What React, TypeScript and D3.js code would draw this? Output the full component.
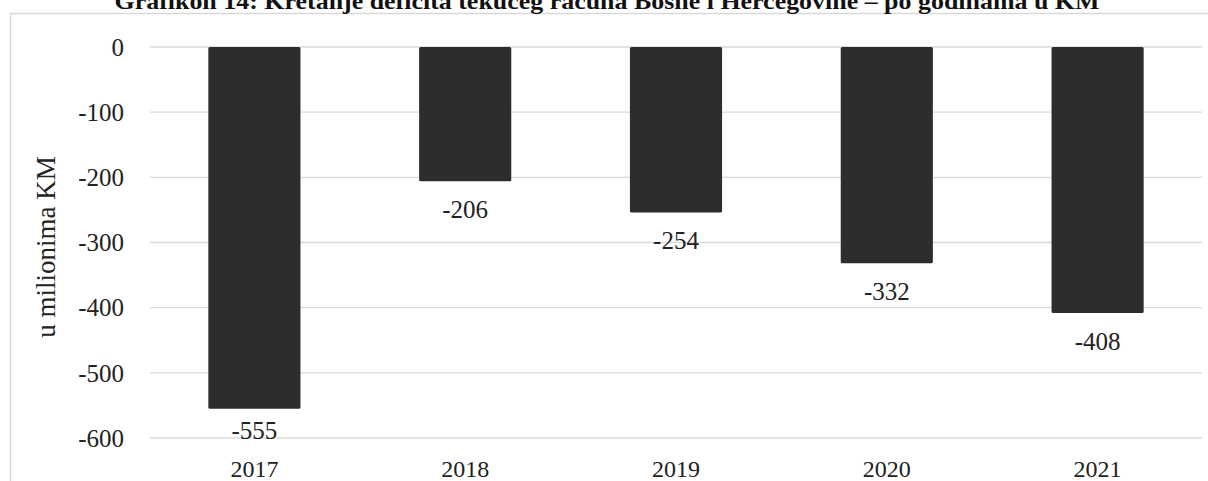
import React from "react";
import * as d3 from "d3";

const years = ["2017", "2018", "2019", "2020", "2021"];
const deficit = [-555, -206, -254, -332, -408];
const yTicks = [0, -100, -200, -300, -400, -500, -600];
const titleText = "Grafikon 14: Kretanje deficita tekućeg računa Bosne i Hercegovine – po godinama u KM";
const yAxisTitle = "u milionima KM";

const W = 1208;
const H = 481;
const FONT = "'Liberation Serif', 'Times New Roman', serif";

export default function App() {
  const x = d3.scaleBand<string>().domain(years).range([149, 1203]).paddingInner(0.563).paddingOuter(0.2815);
  const y = d3.scaleLinear().domain([-600, 0]).range([438, 47]);
  const bw = x.bandwidth();

  return (
    <svg width={W} height={H} style={{ position: "absolute", left: 0, top: 0, background: "#fff" }}>
      <rect x={0} y={0} width={W} height={H} fill="#fff" />
      {/* frame */}
      <line x1={10} y1={13.5} x2={W} y2={13.5} stroke="#d9d9d9" strokeWidth={1.5} />
      <line x1={10.5} y1={13} x2={10.5} y2={H} stroke="#d9d9d9" strokeWidth={1.5} />
      {/* title (clipped at top, as in the source) */}
      <text x={607} y={9} textAnchor="middle" fontFamily={FONT} fontWeight="bold" fontSize={24}
        textLength={985} lengthAdjust="spacingAndGlyphs" fill="#111">{titleText}</text>
      {/* gridlines */}
      {yTicks.map((t) => (
        <line key={t} x1={150} x2={1202} y1={y(t)} y2={y(t)} stroke="#d9d9d9" strokeWidth={1.3} />
      ))}
      {/* y tick labels */}
      {yTicks.map((t) => (
        <text key={"l" + t} x={124} y={y(t)} dy="0.35em" textAnchor="end" fontFamily={FONT} fontSize={25} fill="#222">
          {t}
        </text>
      ))}
      {/* y axis title */}
      <text transform={`translate(46,247) rotate(-90)`} textAnchor="middle" dy="0.35em" fontFamily={FONT} fontSize={27} fill="#222">
        {yAxisTitle}
      </text>
      {/* bars */}
      {years.map((yr, i) => (
        <rect key={yr} x={x(yr)} y={y(0)} width={bw} height={y(deficit[i]) - y(0)} fill="#2d2d2f" rx={1.5} />
      ))}
      {/* value labels */}
      {years.map((yr, i) => {
        const cy = Math.min(y(deficit[i]) + 28, 430);
        return (
          <text key={"v" + yr} x={(x(yr) as number) + bw / 2} y={cy} dy="0.35em" textAnchor="middle" fontFamily={FONT} fontSize={25} fill="#222">
            {deficit[i]}
          </text>
        );
      })}
      {/* category labels */}
      {years.map((yr) => (
        <text key={"c" + yr} x={(x(yr) as number) + bw / 2} y={469} dy="0.35em" textAnchor="middle" fontFamily={FONT} fontSize={24} fill="#222">
          {yr}
        </text>
      ))}
    </svg>
  );
}
